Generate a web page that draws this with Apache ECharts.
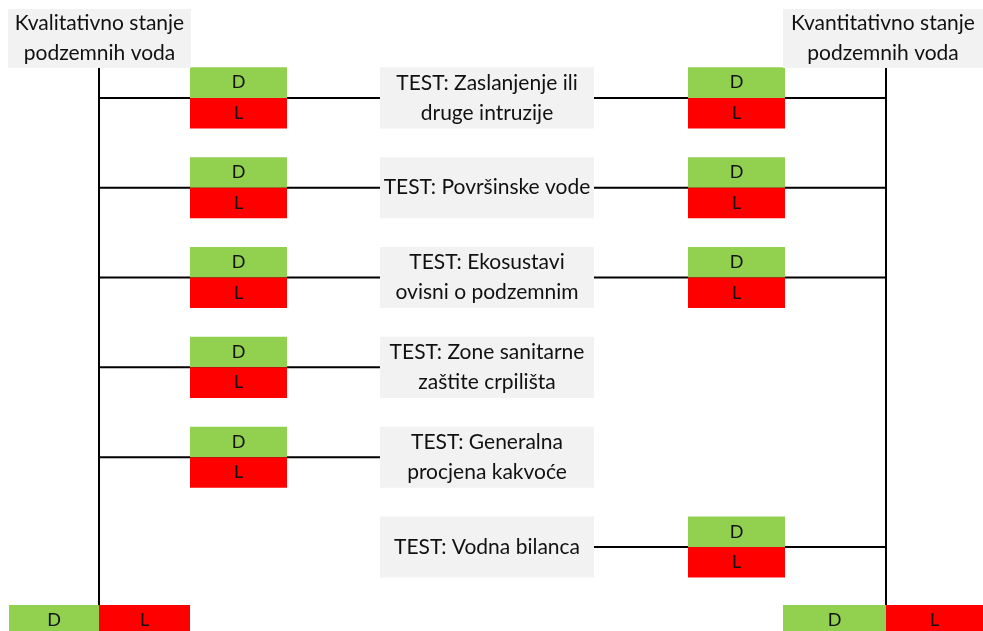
<!DOCTYPE html>
<html>
<head>
<meta charset="utf-8">
<script src="https://cdn.jsdelivr.net/npm/echarts@6/dist/echarts.min.js"></script>
<style>
  html, body { margin: 0; padding: 0; background: #fff; }
  #chart { width: 983px; height: 631px; }
</style>
</head>
<body>
<div id="chart"></div>
<script>
// podaci sheme
var columns = ['Kvalitativno stanje\npodzemnih voda', 'Kvantitativno stanje\npodzemnih voda'];
var tests = [
    'TEST: Zaslanjenje ili\ndruge intruzije',
    'TEST: Površinske vode',
    'TEST: Ekosustavi\novisni o podzemnim',
    'TEST: Zone sanitarne\nzaštite crpilišta',
    'TEST: Generalna\nprocjena kakvoće',
    'TEST: Vodna bilanca'
];
// 1 = test se koristi za to stanje
var qualitative = [1, 1, 1, 1, 1, 0];
var quantitative = [1, 1, 1, 0, 0, 1];
var outcomes = ['D', 'L'];

// boje i raspored
var GREEN = '#92d050', RED = '#ff0000', GRAY = '#f2f2f2', INK = '#111';
var FONT = 'Lato';
var LEFT_TRUNK = 99, RIGHT_TRUNK = 886;
var LEFT_BOX = [190, 287], RIGHT_BOX = [688, 785], TEST_BOX = [380, 594];
var HALF = 0.34;

var chart = echarts.init(document.getElementById('chart'));

// pravokutnik s tekstom u koordinatama osi
function box(api, x0, y0, x1, y1, fill, text, size) {
    var a = api.coord([x0, y0]);
    var b = api.coord([x1, y1]);
    return {
        type: 'rect',
        shape: { x: a[0], y: a[1], width: b[0] - a[0], height: b[1] - a[1] },
        style: { fill: fill },
        textContent: {
            style: {
                text: text, fill: INK, fontFamily: FONT, fontSize: size,
                align: 'center', verticalAlign: 'middle', lineHeight: 30
            }
        },
        textConfig: { position: 'inside' }
    };
}

function line(api, x0, x1, y0, y1) {
    var a = api.coord([x0, y0]);
    var b = api.coord([x1, y1]);
    return {
        type: 'line',
        shape: { x1: a[0], y1: a[1], x2: b[0], y2: b[1] },
        style: { stroke: '#000', lineWidth: 2 }
    };
}

function outcomePair(api, xs, y) {
    return [
        box(api, xs[0], y - HALF, xs[1], y, GREEN, outcomes[0], 18),
        box(api, xs[0], y, xs[1], y + HALF, RED, outcomes[1], 18)
    ];
}

var rows = tests.map(function (t, i) { return [i, t]; });

var option = {
    animation: false,
    grid: { left: 0, right: 0, top: 0, bottom: 0 },
    xAxis: { type: 'value', min: 0, max: 983, show: false },
    yAxis: { type: 'value', min: -1.09, max: 5.935, inverse: true, show: false },
    series: [{
        // glavne vertikalne linije
        type: 'custom',
        data: [[0], [1]],
        renderItem: function (params, api) {
            var x = api.value(0) === 0 ? LEFT_TRUNK : RIGHT_TRUNK;
            return line(api, x, x, -0.334, 5.646);
        }
    }, {
        // horizontalne veze
        type: 'custom',
        data: rows,
        renderItem: function (params, api) {
            var i = api.value(0);
            var children = [];
            if (qualitative[i]) children.push(line(api, LEFT_TRUNK, TEST_BOX[0], i, i));
            if (quantitative[i]) children.push(line(api, TEST_BOX[1], RIGHT_TRUNK, i, i));
            return { type: 'group', children: children };
        }
    }, {
        // testovi
        type: 'custom',
        data: rows,
        renderItem: function (params, api) {
            var i = api.value(0);
            return box(api, TEST_BOX[0], i - HALF, TEST_BOX[1], i + HALF, GRAY, tests[i], 21);
        }
    }, {
        // D / L po testu
        type: 'custom',
        data: rows,
        renderItem: function (params, api) {
            var i = api.value(0);
            var children = [];
            if (qualitative[i]) children = children.concat(outcomePair(api, LEFT_BOX, i));
            if (quantitative[i]) children = children.concat(outcomePair(api, RIGHT_BOX, i));
            return { type: 'group', children: children };
        }
    }, {
        // naslovi stupaca i ukupna ocjena
        type: 'custom',
        data: [[0], [1]],
        renderItem: function (params, api) {
            var left = api.value(0) === 0;
            var hx = left ? [8, 191] : [783, 983];
            var trunk = left ? LEFT_TRUNK : RIGHT_TRUNK;
            var dx = left ? [9, trunk, 190] : [783, trunk, 983];
            return {
                type: 'group',
                children: [
                    box(api, hx[0], -0.99, hx[1], -0.334, GRAY, columns[left ? 0 : 1], 21),
                    box(api, dx[0], 5.646, dx[1], 5.98, GREEN, outcomes[0], 18),
                    box(api, dx[1], 5.646, dx[2], 5.98, RED, outcomes[1], 18)
                ]
            };
        }
    }]
};

chart.setOption(option);
</script>
</body>
</html>
